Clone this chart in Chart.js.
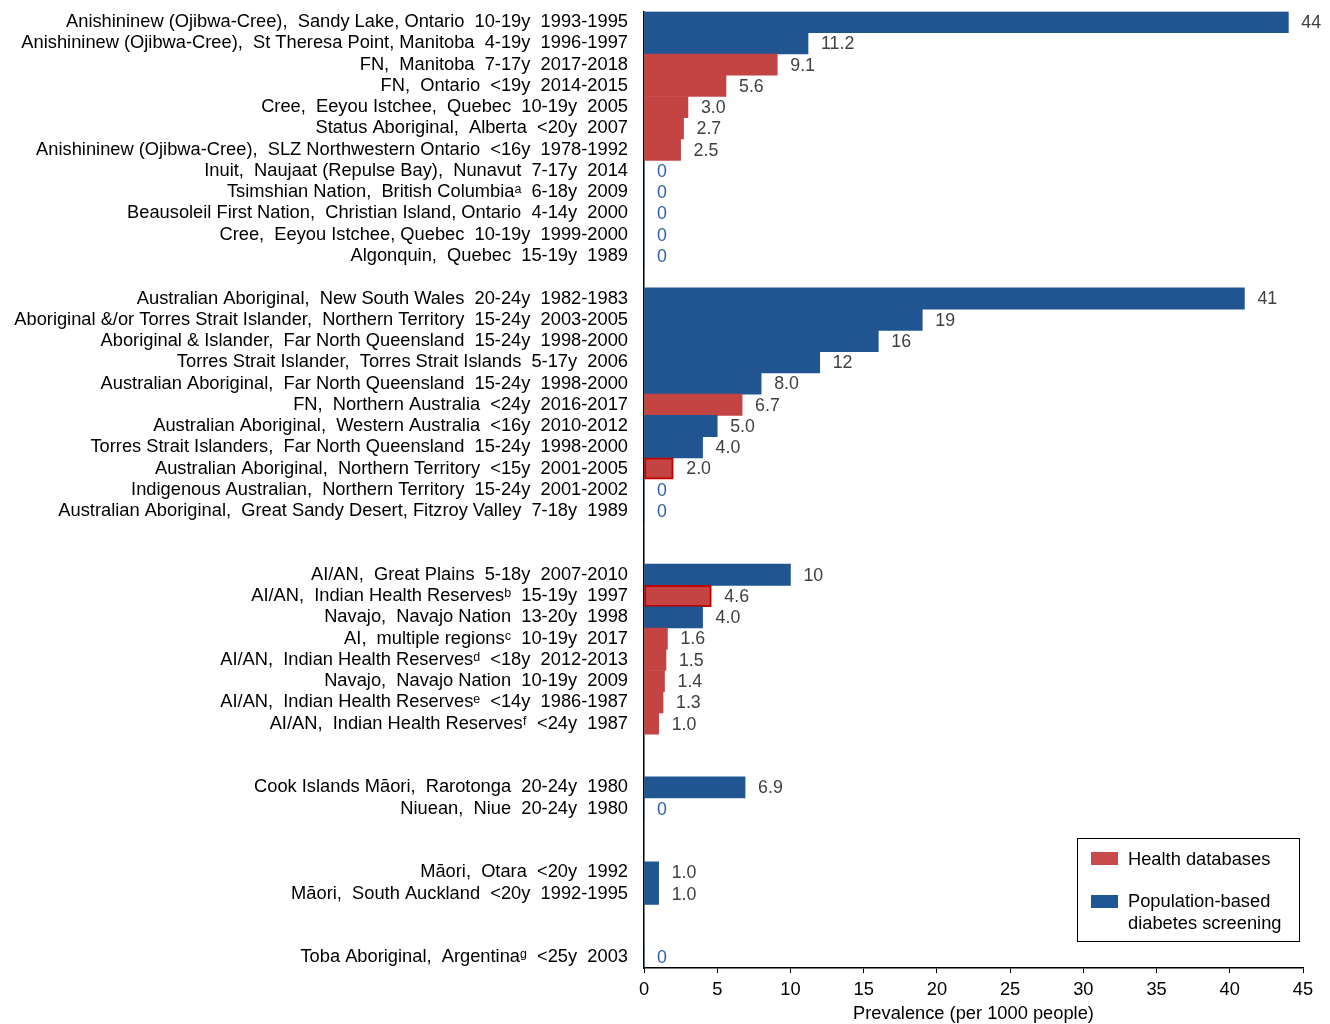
<!DOCTYPE html>
<html>
<head>
<meta charset="utf-8">
<script src="https://cdn.jsdelivr.net/npm/chart.js@4.4.0/dist/chart.umd.min.js"></script>
<style>
    body { margin: 0; background: #fff; }
    #caixa { position: relative; width: 1330px; height: 1024px; }
    #legenda {
        position: absolute; left: 1077px; top: 838px; width: 223px; height: 104px;
        border: 1.5px solid #000; box-sizing: border-box;
        font-family: "Liberation Sans", Arial, sans-serif; font-size: 18.3px; color: #000;
    }
    .item { position: absolute; left: 50px; line-height: 22px; }
    .cor { position: absolute; left: 13px; width: 27px; height: 13px; }
</style>
</head>
<body>
<div id="caixa">
    <canvas id="grafico-barras"></canvas>
    <div id="legenda">
        <div class="cor" style="top: 13px; background: #c84a4a;"></div>
        <div class="item" style="top: 9px;">Health databases</div>
        <div class="cor" style="top: 56px; background: #1f5796;"></div>
        <div class="item" style="top: 51px;">Population-based<br>diabetes screening</div>
    </div>
</div>
<script>
// Dados (linhas vazias = espaço entre grupos)
const categorias = [
    'Anishininew (Ojibwa-Cree),  Sandy Lake, Ontario  10-19y  1993-1995',
    'Anishininew (Ojibwa-Cree),  St Theresa Point, Manitoba  4-19y  1996-1997',
    'FN,  Manitoba  7-17y  2017-2018',
    'FN,  Ontario  <19y  2014-2015',
    'Cree,  Eeyou Istchee,  Quebec  10-19y  2005',
    'Status Aboriginal,  Alberta  <20y  2007',
    'Anishininew (Ojibwa-Cree),  SLZ Northwestern Ontario  <16y  1978-1992',
    'Inuit,  Naujaat (Repulse Bay),  Nunavut  7-17y  2014',
    'Tsimshian Nation,  British Columbia\u1d43  6-18y  2009',
    'Beausoleil First Nation,  Christian Island, Ontario  4-14y  2000',
    'Cree,  Eeyou Istchee, Quebec  10-19y  1999-2000',
    'Algonquin,  Quebec  15-19y  1989',
    '',
    'Australian Aboriginal,  New South Wales  20-24y  1982-1983',
    'Aboriginal &/or Torres Strait Islander,  Northern Territory  15-24y  2003-2005',
    'Aboriginal & Islander,  Far North Queensland  15-24y  1998-2000',
    'Torres Strait Islander,  Torres Strait Islands  5-17y  2006',
    'Australian Aboriginal,  Far North Queensland  15-24y  1998-2000',
    'FN,  Northern Australia  <24y  2016-2017',
    'Australian Aboriginal,  Western Australia  <16y  2010-2012',
    'Torres Strait Islanders,  Far North Queensland  15-24y  1998-2000',
    'Australian Aboriginal,  Northern Territory  <15y  2001-2005',
    'Indigenous Australian,  Northern Territory  15-24y  2001-2002',
    'Australian Aboriginal,  Great Sandy Desert, Fitzroy Valley  7-18y  1989',
    '', '',
    'AI/AN,  Great Plains  5-18y  2007-2010',
    'AI/AN,  Indian Health Reserves\u1d47  15-19y  1997',
    'Navajo,  Navajo Nation  13-20y  1998',
    'AI,  multiple regions\u1d9c  10-19y  2017',
    'AI/AN,  Indian Health Reserves\u1d48  <18y  2012-2013',
    'Navajo,  Navajo Nation  10-19y  2009',
    'AI/AN,  Indian Health Reserves\u1d49  <14y  1986-1987',
    'AI/AN,  Indian Health Reserves\u1da0  <24y  1987',
    '', '',
    'Cook Islands M\u0101ori,  Rarotonga  20-24y  1980',
    'Niuean,  Niue  20-24y  1980',
    '', '',
    'M\u0101ori,  Otara  <20y  1992',
    'M\u0101ori,  South Auckland  <20y  1992-1995',
    '', '',
    'Toba Aboriginal,  Argentina\u1d4d  <25y  2003'
];

const prevalencia = [
    44, 11.2, 9.1, 5.6, 3.0, 2.7, 2.5, 0, 0, 0, 0, 0,
    null,
    41, 19, 16, 12, 8.0, 6.7, 5.0, 4.0, 2.0, 0, 0,
    null, null,
    10, 4.6, 4.0, 1.6, 1.5, 1.4, 1.3, 1.0,
    null, null,
    6.9, 0,
    null, null,
    1.0, 1.0,
    null, null,
    0
];

// H = health databases, P = population-based screening
const fonte = [
    'P', 'P', 'H', 'H', 'H', 'H', 'H', 'P', 'P', 'P', 'P', 'P',
    '',
    'P', 'P', 'P', 'P', 'P', 'H', 'P', 'P', 'H', 'P', 'P',
    '', '',
    'P', 'H', 'P', 'H', 'H', 'H', 'H', 'H',
    '', '',
    'P', 'P',
    '', '',
    'P', 'P',
    '', '',
    'P'
];

// barras com contorno vermelho escuro
const contorno = [
    0, 0, 0, 0, 0, 0, 0, 0, 0, 0, 0, 0,
    0,
    0, 0, 0, 0, 0, 0, 0, 0, 1, 0, 0,
    0, 0,
    0, 1, 0, 0, 0, 0, 0, 0,
    0, 0,
    0, 0,
    0, 0,
    0, 0,
    0, 0,
    0
];

const ticksX = [0, 5, 10, 15, 20, 25, 30, 35, 40, 45];

const FONTE = '"Liberation Sans", Arial, sans-serif';

function formatarValor(v) {
    if (v === 0) return '0';
    if (Number.isInteger(v) && v >= 10) return String(v);
    return v.toFixed(1);
}

// escreve os valores ao lado das barras
const rotulosValores = {
    id: 'rotulosValores',
    afterDatasetsDraw(chart) {
        const ctx = chart.ctx;
        const meta = chart.getDatasetMeta(0);
        ctx.save();
        ctx.font = '17.8px ' + FONTE;
        ctx.textAlign = 'left';
        ctx.textBaseline = 'middle';
        meta.data.forEach((barra, i) => {
            const v = prevalencia[i];
            if (v === null) return;
            ctx.fillStyle = v === 0 ? '#2e5fa8' : '#404040';
            ctx.fillText(formatarValor(v), barra.x + 13, barra.y + 1);
        });
        ctx.restore();
    }
};

window.addEventListener("load", () => {
    gerarGraficoBarras();
});

function gerarGraficoBarras() {
    const canvas = document.getElementById('grafico-barras');
    new Chart(canvas, {
        type: 'bar',
        data: {
            labels: categorias,
            datasets: [{
                data: prevalencia,
                backgroundColor: fonte.map(f => f === 'H' ? '#c44444' : '#215592'),
                borderColor: contorno.map(c => c ? '#c00000' : 'rgba(0,0,0,0)'),
                borderWidth: contorno.map(c => c ? 2 : 0),
                borderSkipped: false,
                categoryPercentage: 1,
                barPercentage: 1
            }]
        },
        options: {
            indexAxis: 'y',
            responsive: true,
            maintainAspectRatio: false,
            animation: false,
            layout: {
                padding: { top: 11.5, right: 27, bottom: 0, left: 0 }
            },
            plugins: {
                legend: { display: false },
                tooltip: { enabled: false }
            },
            scales: {
                x: {
                    min: 0,
                    max: 45,
                    afterBuildTicks: (escala) => {
                        escala.ticks = ticksX.map(v => ({ value: v }));
                    },
                    grid: {
                        drawOnChartArea: false,
                        drawTicks: true,
                        tickLength: 5,
                        color: '#000'
                    },
                    border: { color: '#000', width: 1.5 },
                    ticks: {
                        color: '#000',
                        padding: 6,
                        font: { family: FONTE, size: 18.3 }
                    },
                    title: {
                        display: true,
                        text: 'Prevalence (per 1000 people)',
                        color: '#000',
                        padding: { top: -4, bottom: -1 },
                        font: { family: FONTE, size: 18.3 }
                    }
                },
                y: {
                    afterFit: (escala) => {
                        escala.width = 644;
                        escala.paddingTop = 0;
                        escala.paddingBottom = 0;
                    },
                    grid: { display: false, drawTicks: false },
                    border: { color: '#000', width: 1.5 },
                    ticks: {
                        color: '#000',
                        padding: 16,
                        autoSkip: false,
                        font: { family: FONTE, size: 18.3 }
                    }
                }
            }
        },
        plugins: [rotulosValores]
    });
}
</script>
</body>
</html>
